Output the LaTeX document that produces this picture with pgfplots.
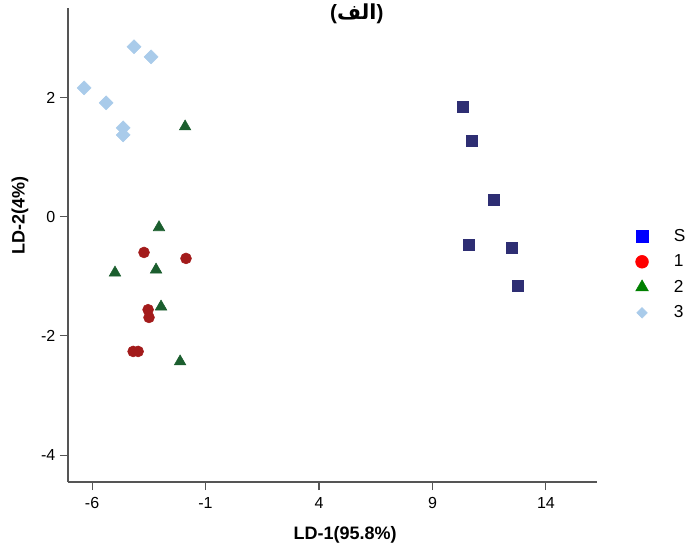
\documentclass[border=0pt]{standalone}
\usepackage{pgfplots}
\pgfplotsset{compat=1.18}
\usepackage{fontspec}
\setmainfont{Liberation Sans}
\newfontfamily\arabicfont[Script=Arabic]{DejaVu Sans}
\TeXXeTstate=1
\definecolor{sNavy}{HTML}{2E2E73}
\definecolor{oneRed}{HTML}{A31B1B}
\definecolor{twoGreen}{HTML}{1B5E2E}
\definecolor{threeBlue}{HTML}{A9CBEA}
\definecolor{axgray}{HTML}{555555}
\begin{document}
\begin{tikzpicture}
\useasboundingbox (0,0) rectangle (514.5pt,412.5pt);
\begin{axis}[
  at={(51pt,51pt)}, anchor=south west,
  scale only axis, width=396.75pt, height=355.5pt,
  xmin=-7.06, xmax=16.25, ymin=-4.45, ymax=3.5,
  axis lines*=left,
  axis line style={-, axgray, line width=0.8pt},
  xtick={-6,-1,4,9,14}, ytick={-4,-2,0,2},
  tick align=outside, major tick length=6pt,
  tick style={axgray, line width=0.8pt},
  /pgf/number format/assume math mode=true,
  tick label style={font=\fontsize{12}{14}\selectfont},
  xticklabel style={yshift=-2pt},
  xlabel={\bfseries LD-1(95.8\%)},
  xlabel style={at={(axis description cs:0.524,-0.112)}, anchor=center, font=\fontsize{13.5}{15}\selectfont},
  ylabel={\bfseries LD-2(4\%)},
  ylabel style={at={(axis description cs:-0.091,0.562)}, anchor=center, rotate=0, font=\fontsize{13.5}{15}\selectfont},
  legend style={draw=none, fill=none, at={(axis description cs:1.065,0.545)}, anchor=north west,
    font=\fontsize{13}{15}\selectfont, row sep=4.6pt,
    /tikz/every odd column/.append style={column sep=17pt}},
  legend cell align=left,
  clip=false,
]
\addlegendimage{only marks, mark=square*, mark size=4.3pt, color=blue}
\addlegendentry{S}
\addlegendimage{only marks, mark=*, mark size=4.8pt, color=red}
\addlegendentry{1}
\addlegendimage{only marks, mark=triangle*, mark size=5.5pt, color=green!50!black}
\addlegendentry{2}
\addlegendimage{only marks, mark=square*, mark options={rotate=45}, mark size=2.8pt, color=threeBlue}
\addlegendentry{3}

\addplot[forget plot, only marks, mark=square*, mark size=4.1pt, color=sNavy] coordinates {
 (10.34,1.84) (10.74,1.27) (11.71,0.28) (10.61,-0.47) (12.50,-0.52) (12.77,-1.16)};
\addplot[forget plot, only marks, mark=*, mark size=4.1pt, color=oneRed] coordinates {
 (-3.71,-0.60) (-1.86,-0.70) (-3.53,-1.56) (-3.49,-1.69) (-4.19,-2.26) (-3.97,-2.26)};
\addplot[forget plot, only marks, mark=triangle*, mark size=5pt, color=twoGreen] coordinates {
 (-1.90,1.51) (-3.05,-0.18) (-4.99,-0.94) (-3.18,-0.89) (-2.96,-1.51) (-2.12,-2.43)};
\addplot[forget plot, only marks, mark=square*, mark options={rotate=45}, mark size=3.7pt, color=threeBlue] coordinates {
 (-4.15,2.85) (-3.40,2.68) (-6.35,2.16) (-5.38,1.91) (-4.63,1.49) (-4.63,1.37)};
\node[anchor=center, font=\fontsize{15.5}{17}\selectfont\bfseries, inner sep=0pt]
  at (axis description cs:0.546,0.988) {\hbox{(}\hbox{\arabicfont\bfseries\beginR الف\endR}\hbox{)}};
\end{axis}
\end{tikzpicture}
\end{document}
